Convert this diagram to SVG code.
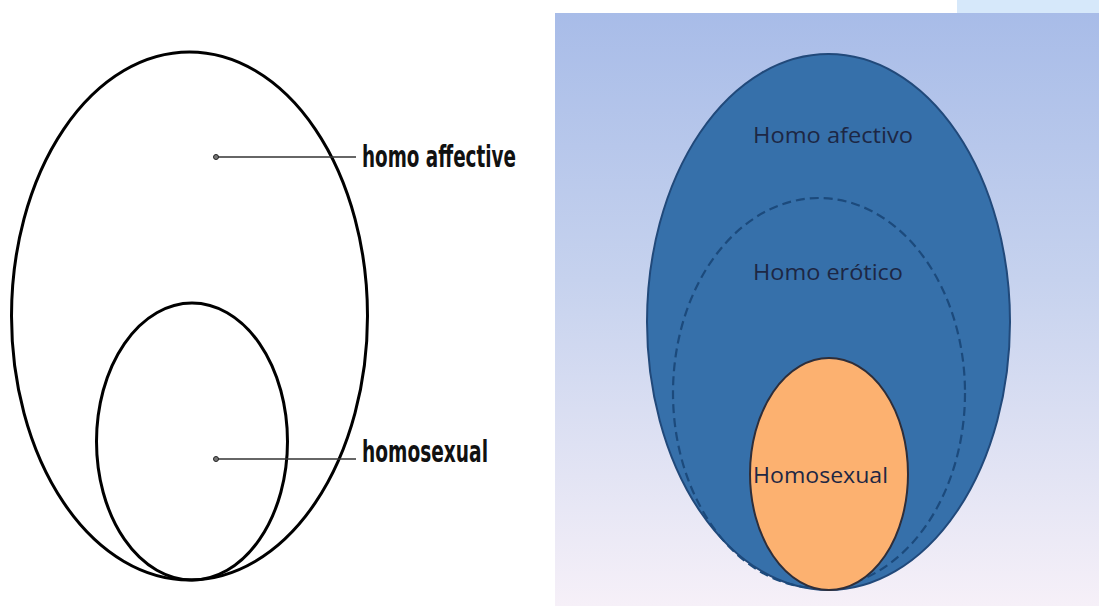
<svg xmlns="http://www.w3.org/2000/svg" width="1099" height="606" viewBox="0 0 1099 606">
  <defs>
    <linearGradient id="bg" x1="0" y1="0" x2="0" y2="1">
      <stop offset="0" stop-color="#a8bce8"/>
      <stop offset="0.45" stop-color="#c6d2ee"/>
      <stop offset="1" stop-color="#f6f0f8"/>
    </linearGradient>
    <style>
      .outline { fill: none; stroke: #000; stroke-width: 3; }
      .leader { stroke: #333; stroke-width: 1.3; }
      .dot { fill: #777; stroke: #222; stroke-width: 1; }
      .lbl { font-family: "DejaVu Sans Condensed", "DejaVu Sans", sans-serif; font-weight: bold; font-size: 31px; fill: #111; }
      .rlbl { font-family: "Open Sans", "Liberation Sans", sans-serif; font-size: 22px; fill: #1d2744; }
    </style>
  </defs>
  <rect x="0" y="0" width="1099" height="606" fill="#fff"/>

  <g id="left-outer">
    <ellipse class="outline" cx="189.5" cy="316" rx="178" ry="264"/>
  </g>
  <g id="left-inner">
    <ellipse class="outline" cx="192" cy="441.5" rx="95.5" ry="138.5"/>
  </g>
  <g id="connectors">
    <line class="leader" x1="216" y1="157" x2="356" y2="157"/>
    <circle class="dot" cx="216" cy="157" r="2.5"/>
    <line class="leader" x1="216" y1="459" x2="356" y2="459"/>
    <circle class="dot" cx="216" cy="459" r="2.5"/>
  </g>
  <g id="label-homo-affective">
    <text class="lbl" x="362" y="167" textLength="154" lengthAdjust="spacingAndGlyphs">homo affective</text>
  </g>
  <g id="label-homosexual-left">
    <text class="lbl" x="362" y="462" textLength="126" lengthAdjust="spacingAndGlyphs">homosexual</text>
  </g>

  <g id="right-panel">
    <rect x="555" y="13" width="544" height="593" fill="url(#bg)"/>
    <rect x="957" y="0" width="142" height="13" fill="#d6e8fa"/>
  </g>
  <g id="homo-afectivo">
    <ellipse cx="828.5" cy="322" rx="181.5" ry="268" fill="#3670aa" stroke="#21497a" stroke-width="2"/>
    <text class="rlbl" x="753" y="143" textLength="160" lengthAdjust="spacingAndGlyphs">Homo afectivo</text>
  </g>
  <g id="homo-erotico">
    <ellipse cx="819" cy="393" rx="146" ry="195" fill="none" stroke="#1c4a7c" stroke-width="2.2" stroke-dasharray="9 5"/>
    <text class="rlbl" x="753" y="280" textLength="150" lengthAdjust="spacingAndGlyphs">Homo erótico</text>
  </g>
  <g id="homosexual-right">
    <ellipse cx="829" cy="474" rx="79" ry="116" fill="#fcb170" stroke="#2e2e3a" stroke-width="2"/>
    <text class="rlbl" x="753" y="483" textLength="135" lengthAdjust="spacingAndGlyphs" fill="#3a2418">Homosexual</text>
  </g>
</svg>
